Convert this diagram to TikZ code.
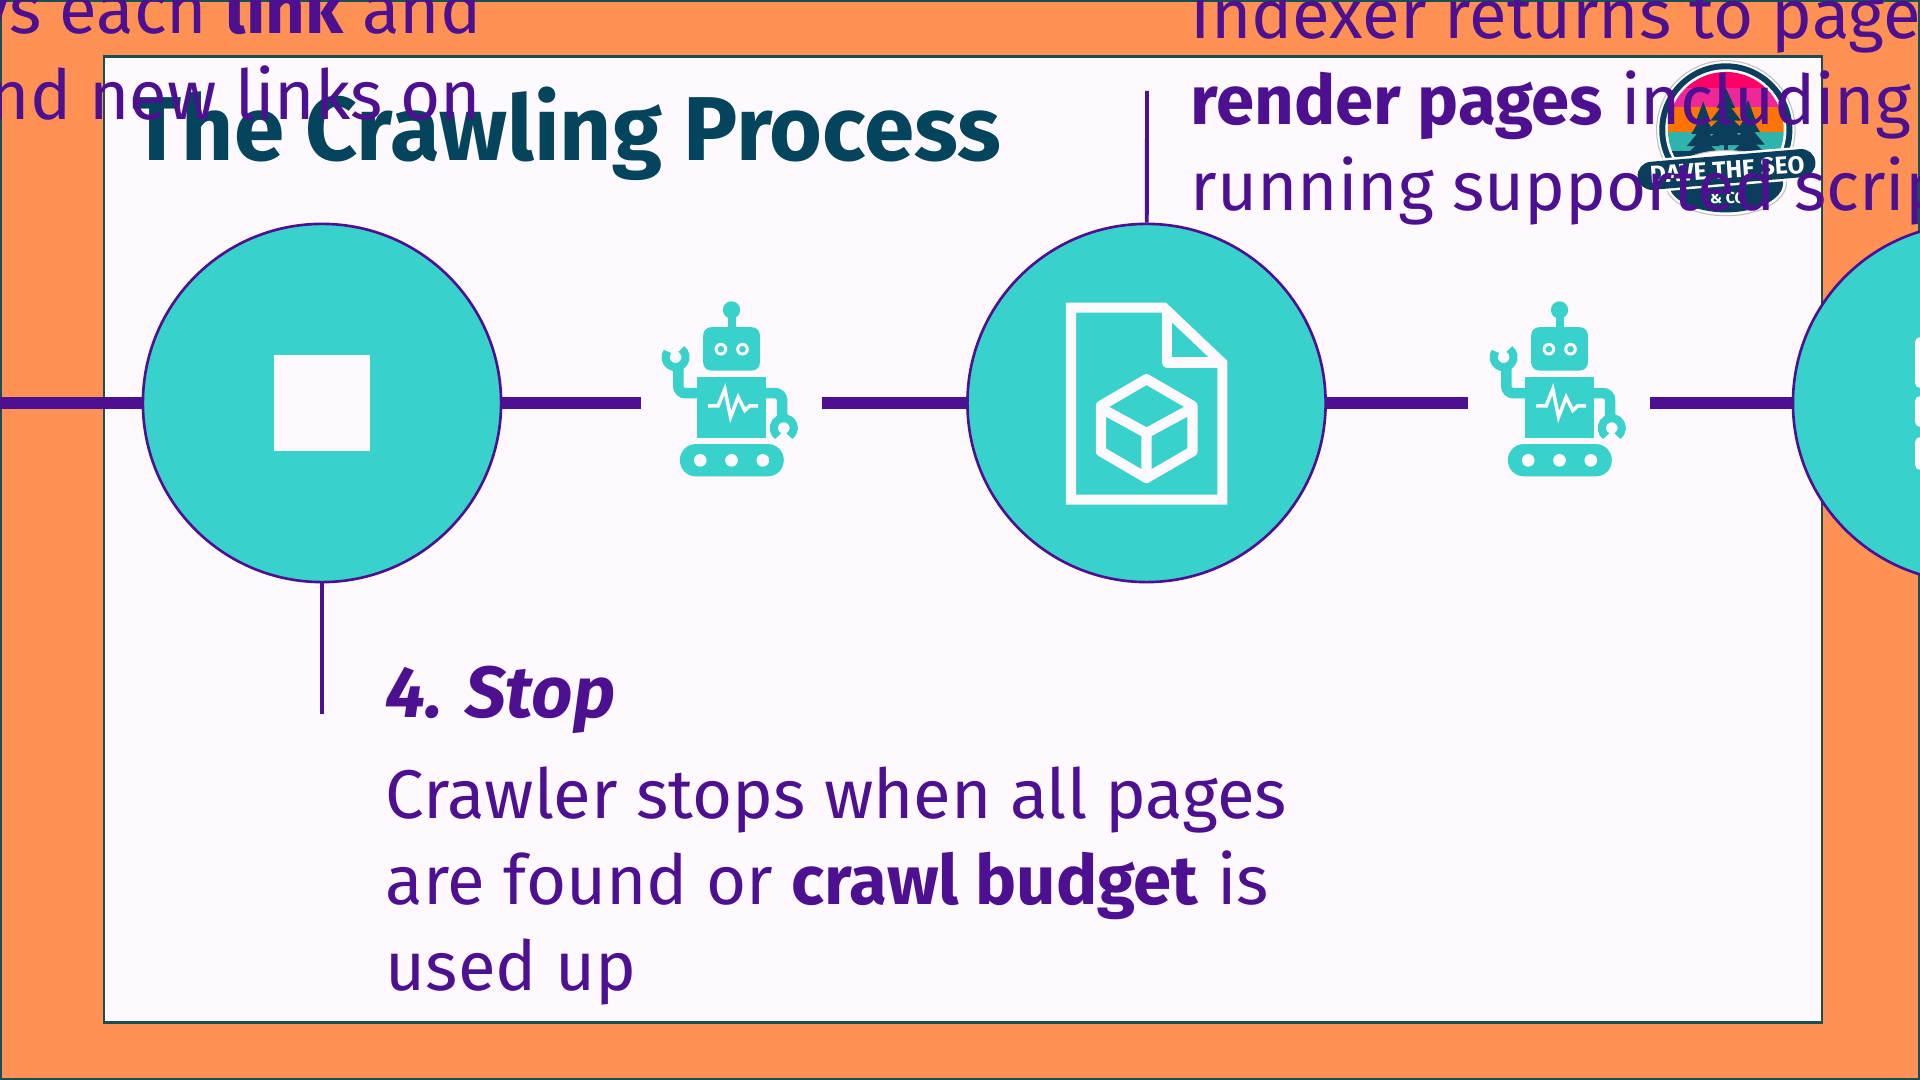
\documentclass[tikz,border=0pt]{standalone}
\usepackage{xcolor}
\usepackage{fontspec}
\setmainfont{Fira Sans}
\usetikzlibrary{positioning}
\definecolor{slideorange}{RGB}{255,145,85}
\definecolor{panelwhite}{RGB}{254,249,254}
\definecolor{edgeteal}{RGB}{24,78,84}
\definecolor{stepteal}{RGB}{56,209,203}
\definecolor{stepviolet}{RGB}{76,16,145}
\definecolor{titleblue}{RGB}{4,68,92}
\definecolor{logoblue}{RGB}{10,62,92}
\tikzset{
  robotbot/.pic={
    \begin{scope}[x=0.00333cm, y=-0.00333cm]
      \fill[stepteal] (275,90) circle[radius=26];
      \fill[stepteal] (263,90) rectangle (289,150);
      \fill[stepteal, rounded corners=2.2pt] (190,142) rectangle (360,272);
      \foreach \eyex in {243,308} {
        \fill[panelwhite] (\eyex,208) circle[radius=19];
        \fill[stepteal] (\eyex,208) circle[radius=10];
      }
      \fill[stepteal] (172,292) rectangle (380,474);
      \draw[panelwhite, line width=1pt, line join=miter]
        (205,378) -- (235,378) -- (255,328) -- (272,412) -- (295,352) -- (315,392) -- (330,378) -- (355,378);
      \draw[stepteal, line width=3pt, rounded corners=2pt] (175,340) -- (115,340) -- (115,262);
      \draw[stepteal, line width=2.3pt] (107,232) ++(-55:30) arc[start angle=-55, end angle=215, radius=30];
      \draw[stepteal, line width=3pt, rounded corners=2pt] (378,340) -- (427,340) -- (427,420);
      \draw[stepteal, line width=2.3pt] (432,445) ++(125:30) arc[start angle=125, end angle=415, radius=30];
      \fill[stepteal, rounded corners=4.5pt] (120,493) rectangle (432,590);
      \foreach \wheelx in {181,275,369}
        \fill[panelwhite] (\wheelx,542) circle[radius=19];
    \end{scope}
  }
}

\begin{document}
\begin{tikzpicture}[
  x=0.01cm, y=-0.01cm,
  stepcircle/.style={circle, draw=stepviolet, line width=0.75pt, fill=stepteal, minimum size=3.58cm, inner sep=0pt},
  botgap/.style={minimum width=1.80cm, minimum height=1cm, inner sep=0pt},
  spine/.style={draw=stepviolet, line width=3.6pt},
  stem/.style={draw=stepviolet, line width=1.1pt},
  bodytext/.style={inner sep=0pt, text=stepviolet, font=\fontsize{19.6pt}{24.47pt}\selectfont},
  iconline/.style={draw=panelwhite, line width=2.9pt, line join=round, line cap=round}
]
\useasboundingbox (0,0) rectangle (1920,1080);
\clip (0,0) rectangle (1920,1080);

% slide and panel
\fill[slideorange] (0,0) rectangle (1920,1080);
\draw[edgeteal, line width=0.8pt] (1,1) rectangle (1919,1079);
\node[draw=edgeteal, line width=0.8pt, fill=panelwhite, minimum width=17.17cm, minimum height=9.65cm, inner sep=0pt] (panel) at (963,539.5) {};

% logo
\begin{scope}[shift={(1620,50)}, x=0.00333cm, y=-0.00333cm]
  \fill[white, draw=black!25, line width=0.3pt] (318,240) circle[radius=208];
  \fill[logoblue] (318,240) circle[radius=200];
  \fill[white] (318,240) circle[radius=182];
  \begin{scope}
    \clip (318,240) circle[radius=174];
    \fill[red!60!magenta] (100,50) rectangle (540,115);
    \fill[magenta!80!pink] (100,115) rectangle (540,170);
    \fill[orange!90!red] (100,170) rectangle (540,245);
    \fill[stepteal!85!black] (100,245) rectangle (540,320);
    \fill[logoblue] (100,305) rectangle (540,420);
  \end{scope}
  \foreach \treex/\treetop/\treew in {250/155/55, 318/115/70, 385/150/55} {
    \foreach \tier in {0,1,2,3}
      \fill[logoblue] (\treex,\treetop+\tier*37) -- (\treex+\treew*0.4+\treew*\tier*0.25,\treetop+\tier*37+60) -- (\treex-\treew*0.4-\treew*\tier*0.25,\treetop+\tier*37+60) -- cycle;
    \fill[logoblue] (\treex-5,\treetop+100) rectangle (\treex+5,310);
  }
  \fill[white, draw=black!25, line width=0.3pt] (318,400) ellipse[x radius=182, y radius=98];
  \fill[logoblue] (318,400) ellipse[x radius=172, y radius=88];
  \draw[white, line width=9.4pt, line cap=round] (95,378) -- (545,340);
  \draw[logoblue, line width=8pt, line cap=round] (95,378) -- (545,340);
  \node[rotate=4, text=white, inner sep=0pt, font=\fontsize{7pt}{7pt}\bfseries\selectfont] (logoname) at (322,360) {DAVE THE SEO};
  \node[text=white, inner sep=0pt, font=\fontsize{4.5pt}{4.5pt}\bfseries\selectfont, below=0.12cm of logoname] (logoco) {\& CO};
\end{scope}

% steps
\coordinate (inleft) at (0,403);
\node[stepcircle] (stop) at (322,403) {};
\node[botgap, right=1.38cm of stop] (botone) {};
\node[stepcircle, right=1.44cm of botone] (page) {};
\node[botgap, right=1.41cm of page] (bottwo) {};
\node[stepcircle, right=1.42cm of bottwo] (store) {};
\foreach \s/\t in {inleft/stop, stop/botone, botone/page, page/bottwo, bottwo/store}
  \draw[spine] (\s) -- (\t);

\node[fill=panelwhite, minimum size=0.95cm, inner sep=0pt] (stopicon) at (stop) {};
\pic at (640,280) {robotbot};
\pic at (1468,280) {robotbot};

% page with cube
\begin{scope}[shift={(1040,280)}, x=0.00333cm, y=-0.00333cm]
  \draw[iconline, line cap=butt, line join=miter] (93,83) -- (372,83) -- (548,250) -- (548,660) -- (93,660) -- cycle;
  \draw[iconline, line cap=butt] (381,90) -- (381,248) -- (545,248);
  \draw[iconline] (320,298) -- (458,378) -- (458,515) -- (320,595) -- (183,515) -- (183,378) -- cycle;
  \draw[iconline] (183,385) -- (320,460) -- (458,385) (320,460) -- (320,595);
\end{scope}

% stack on the cut circle
\begin{scope}[panelwhite]
  \fill[rounded corners=1.5pt] (1915,337) rectangle (1940,388);
  \fill[rounded corners=1.5pt] (1915,396) rectangle (1940,427);
  \fill[rounded corners=1.5pt] (1915,437) rectangle (1940,470);
\end{scope}

\coordinate (stemtop) at (1147,91);
\coordinate (stembottom) at (322,714);
\draw[stem] (page) -- (stemtop);
\draw[stem] (stop) -- (stembottom);

% texts
\node[anchor=base west, inner sep=0pt, text=titleblue, font=\fontsize{25.8pt}{25.8pt}\bfseries\selectfont] (title) at (132,161) {The Crawling Process};
\node[bodytext, anchor=north east, align=right] (linktext) at (482,-23) {ys each \textbf{link} and\\nd new links on};
\node[bodytext, anchor=north west, align=left] (rendertext) at (1190,-14) {Indexer returns to pages\\\textbf{render pages} including\\running supported scrip};
\node[anchor=base west, inner sep=0pt, text=stepviolet, font=\fontsize{20.6pt}{20.6pt}\bfseries\itshape\selectfont] (stophead) at (385,718) {4. Stop};
\node[bodytext, anchor=north west, align=left, below=0.31cm of stophead.south west, anchor=north west] (stoptext) {Crawler stops when all pages\\are found or \textbf{crawl budget} is\\used up};
\end{tikzpicture}
\end{document}
